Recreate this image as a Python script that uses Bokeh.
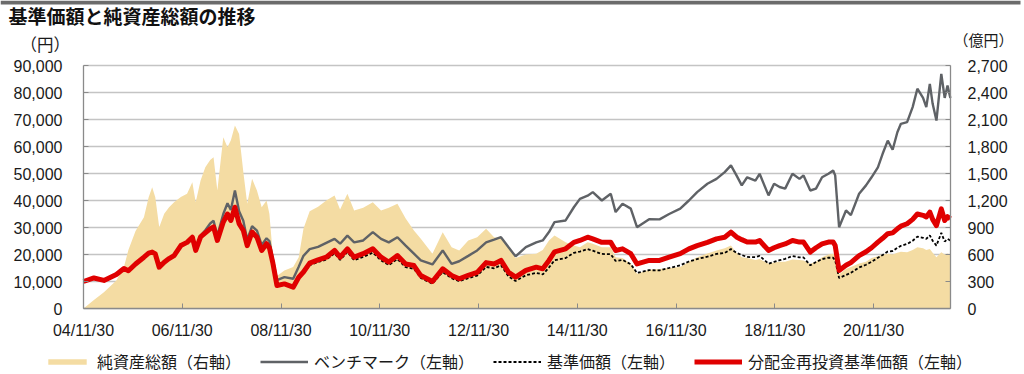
import pandas as pd
from bokeh.plotting import figure
from bokeh.models import (ColumnDataSource, LinearAxis, DatetimeAxis, Range1d, FixedTicker,
                          NumeralTickFormatter, DatetimeTickFormatter, Label,
                          Legend, LegendItem, BoxAnnotation)
from bokeh.embed import file_html
from bokeh.resources import INLINE

# ---------------- data ----------------
dates = [
    "2004-11-30", "2005-02-15", "2005-04-30", "2005-07-31", "2005-09-25", "2005-10-28", "2005-12-20",
    "2006-02-20", "2006-03-27", "2006-04-22", "2006-05-15", "2006-06-13", "2006-07-20", "2006-08-25",
    "2006-10-01", "2006-11-20",
    "2007-01-05", "2007-02-13", "2007-03-10", "2007-04-15", "2007-05-20", "2007-06-25", "2007-07-20",
    "2007-08-17", "2007-09-30", "2007-10-31", "2007-11-25", "2007-12-25",
    "2008-01-25", "2008-02-25", "2008-03-25", "2008-04-30", "2008-06-05", "2008-07-10", "2008-08-15",
    "2008-09-05", "2008-09-30", "2008-10-31", "2008-12-25",
    "2009-02-28", "2009-04-10", "2009-05-15", "2009-06-30", "2009-08-31", "2009-10-31", "2009-12-31",
    "2010-02-10", "2010-04-05", "2010-05-25", "2010-07-31", "2010-10-10", "2010-12-10",
    "2011-02-05", "2011-04-10", "2011-06-10", "2011-08-10", "2011-09-30", "2011-12-25",
    "2012-03-10", "2012-05-15", "2012-07-10", "2012-09-15", "2012-11-20",
    "2013-01-25", "2013-03-25", "2013-05-15", "2013-07-10", "2013-08-31", "2013-11-15",
    "2014-01-31", "2014-03-20", "2014-05-05", "2014-06-15", "2014-09-05", "2014-11-05", "2014-12-20",
    "2015-02-15", "2015-03-25", "2015-05-31", "2015-08-05", "2015-09-10", "2015-10-31", "2015-12-31",
    "2016-02-15", "2016-05-15", "2016-07-31", "2016-10-10", "2016-12-31",
    "2017-03-05", "2017-05-05", "2017-07-20", "2017-09-25", "2017-11-25",
    "2018-01-10", "2018-02-20", "2018-03-31", "2018-05-10", "2018-07-10", "2018-08-10", "2018-10-15",
    "2018-11-25",
    "2019-01-05", "2019-02-15", "2019-04-10", "2019-06-01", "2019-07-01", "2019-08-20", "2019-10-01",
    "2019-11-15",
    "2020-01-01", "2020-02-05", "2020-02-20", "2020-03-20", "2020-05-10", "2020-06-15", "2020-08-15",
    "2020-10-05", "2020-11-15",
    "2021-01-01", "2021-02-05", "2021-03-15", "2021-04-20", "2021-05-25", "2021-06-20", "2021-08-05",
    "2021-09-15", "2021-10-20", "2021-12-01", "2021-12-25",
    "2022-01-20", "2022-02-10", "2022-03-10", "2022-04-15", "2022-05-10", "2022-05-31", "2022-06-21",
]

# 分配金再投資基準価額 (円, left axis)
reinvested_nav = [
    10000, 11300, 10400, 12600, 14800, 14000, 16500,
    19000, 20500, 20900, 20200, 15300, 17150, 18500,
    19600, 23300,
    24500, 26400, 21500, 26500, 28000, 29500, 30200,
    25200, 32000, 35000, 32600, 37500,
    31400, 28900, 23300, 28300, 26400, 21500, 24000,
    22500, 17000, 8500, 9100,
    7900, 11600, 13500, 16800, 18000, 19000, 21500,
    19000, 22100, 19000, 20300, 22100, 19000,
    17200, 19600, 16500, 15900, 12200, 10000,
    14700, 12200, 11000, 12300, 13400,
    17000, 16500, 17800, 13400, 11600, 14100,
    15300, 14700, 17800, 21000, 22100, 24500, 25200,
    26400, 25800, 24500, 24500, 21500, 22100, 20300,
    16500, 17800, 17800, 19000, 20300,
    22100, 23300, 24500, 25800, 26400,
    28300, 26500, 25500, 24600, 24600, 25200, 21500,
    22500,
    23300, 23900, 25200, 24600, 24600, 20900, 22500,
    23900,
    24600, 24600, 23300, 14100, 16000, 17000, 19600,
    21000, 22500,
    24600, 26000, 27700, 28000, 29500, 30500, 31400,
    33000, 35000, 34500, 33900,
    35700, 33000, 30700, 36900, 32600, 34000, 33200,
]

# ベンチマーク (left axis)
benchmark = [
    10000, 11300, 10400, 12600, 14800, 14000, 16500,
    19000, 20500, 20900, 20200, 15300, 17150, 18500,
    19600, 23300,
    24600, 26600, 21700, 27000, 29000, 31500, 32500,
    27000, 35000, 39000, 36500, 43700,
    36000, 32500, 25500, 30500, 28800, 23500, 26000,
    25000, 18500, 10500, 11600,
    11000, 15500, 19500, 22000, 22800, 24300, 25800,
    24000, 27000, 24500, 25200, 28300, 25800,
    24500, 26400, 23300, 20300, 17800, 16300,
    21500, 16500, 17500, 19500, 21500,
    24500, 25500, 26400, 22700, 19300, 22700,
    24500, 25200, 28300, 32000, 32600, 37500, 40600,
    41800, 43100, 40000, 42500, 35700, 38800, 37000,
    30100, 33100, 33000, 35000, 37000,
    40000, 43100, 46200, 48000, 50500,
    53000, 49300, 45600, 48600, 47400, 49900, 41900,
    46200,
    45000, 44400, 49900, 48000, 49300, 43700, 44400,
    48600,
    49900, 51100, 49300, 30100, 36300, 34600, 42500,
    45600, 48600,
    52300, 57300, 62200, 58800, 65300, 68400, 69000,
    74600, 81400, 78000, 74600,
    83200, 75800, 69600, 86900, 78000, 82600, 78000,
]

# 基準価額 (left axis)
nav_price = [
    10000, 11300, 10400, 12600, 14800, 14000, 16500,
    19000, 20500, 20900, 20200, 15300, 17150, 18500,
    19600, 23300,
    24500, 26400, 21500, 26500, 27900, 29300, 30000,
    25000, 31700, 34600, 32200, 37000,
    30900, 28400, 22900, 27700, 25800, 21000, 23400,
    21900, 16600, 8300, 8800,
    7600, 11200, 13000, 16100, 17200, 18100, 20400,
    18000, 20900, 17900, 19100, 20700, 17800,
    16100, 18300, 15300, 14700, 11300, 9200,
    13500, 11200, 10100, 11200, 12200,
    15400, 14900, 16000, 11900, 10200, 12300,
    13200, 12600, 15200, 17900, 18700, 20600, 21100,
    22000, 21400, 20200, 20100, 17600, 18000, 16400,
    13200, 14200, 14100, 15000, 16000,
    17400, 18300, 19200, 20200, 20600,
    22000, 20600, 19800, 19100, 19000, 19500, 16600,
    17300,
    17900, 18400, 19400, 18900, 18900, 16000, 17200,
    18300,
    18800, 18800, 17800, 11300, 12400, 13200, 15200,
    16200, 17300,
    18800, 19800, 21100, 21300, 22500, 23200, 23900,
    25100, 26600, 26200, 25800,
    27100, 25100, 23300, 28000, 24800, 25800, 25200,
]

# 純資産総額 (億円, right axis)
net_assets = [
    0, 95, 181, 311, 460, 650, 860,
    1014, 1237, 1348, 1237, 903, 1052, 1126,
    1180, 1240,
    1274, 1403, 1181, 1422, 1570, 1650, 1681,
    1311, 1903, 1792, 1870, 2033,
    1940, 1520, 1163, 1441, 1311, 1126, 1200,
    1052, 600, 360, 422,
    460, 570, 885, 1080, 1130, 1200, 1255,
    1100, 1274, 1089, 1120, 1181, 1089,
    1120, 1163, 1000, 867, 774, 607,
    848, 681, 644, 756, 793,
    885, 793, 780, 681, 560, 600,
    607, 650, 756, 811, 737, 700, 681,
    737, 720, 681, 681, 570, 560, 496,
    385, 430, 440, 450, 460,
    520, 570, 610, 644, 670,
    700, 620, 570, 560, 540, 550, 496,
    510,
    520, 520, 545, 540, 533, 496, 520,
    570,
    600, 607, 590, 380, 440, 460, 500,
    520, 560,
    580, 600, 607, 600, 620, 630, 626,
    650, 681, 670, 650,
    660, 620, 570, 626, 600, 610, 600,
]

x_tick_dates = ["2004-11-30", "2006-11-30", "2008-11-30", "2010-11-30", "2012-11-30",
                "2014-11-30", "2016-11-30", "2018-11-30", "2020-11-30"]
x_tick_labels = ["04/11/30", "06/11/30", "08/11/30", "10/11/30", "12/11/30",
                 "14/11/30", "16/11/30", "18/11/30", "20/11/30"]
left_ticks = [0, 10000, 20000, 30000, 40000, 50000, 60000, 70000, 80000, 90000]
right_ticks = [0, 300, 600, 900, 1200, 1500, 1800, 2100, 2400, 2700]
axis_start, axis_end = "2004-11-30", "2022-06-22"

title_text = "基準価額と純資産総額の推移"
left_unit = "（円）"
right_unit = "（億円）"
legend_labels = ["純資産総額（右軸）", "ベンチマーク（左軸）", "基準価額（左軸）", "分配金再投資基準価額（左軸）"]

assert len(dates) == len(reinvested_nav) == len(benchmark) == len(nav_price) == len(net_assets)


def ms(s):
    return int(pd.Timestamp(s).value // 10**6)


src = ColumnDataSource(dict(
    date=[pd.Timestamp(d) for d in dates],
    bench=benchmark, nav=nav_price, reinv=reinvested_nav, assets=net_assets,
))

# ---------------- layout geometry (pixels of the 1024x374 canvas) ----------------
W, H = 1024, 374
PL, PR, PT, PB = 83, 950, 65, 308          # plot box: left, right, top (90,000 line), bottom (0)
A, B = ms(axis_start), ms(axis_end)
sx = (B - A) / (PR - PL)
L_MAX, R_MAX = left_ticks[-1], right_ticks[-1]
sy_l = L_MAX / (PB - PT)
sy_r = R_MAX / (PB - PT)

# the frame covers the whole canvas; axes are pinned at fixed data locations
p = figure(width=W, height=H, x_axis_type=None, y_axis_type=None,
           x_range=Range1d(A - PL * sx, B + (W - PR) * sx),
           y_range=Range1d(-(H - PB) * sy_l, L_MAX + PT * sy_l),
           output_backend="svg", toolbar_location=None,
           min_border_left=0, min_border_right=0, min_border_top=0, min_border_bottom=0)
p.extra_y_ranges = {"assets": Range1d(-(H - PB) * sy_r, R_MAX + PT * sy_r)}
p.outline_line_color = None
p.background_fill_color = "white"
p.border_fill_color = "white"
p.xgrid.visible = False
p.ygrid.visible = False

# horizontal grid lines at the left-axis ticks, limited to the plot box
p.segment(x0=[A] * len(left_ticks), x1=[B] * len(left_ticks), y0=left_ticks, y1=left_ticks,
          line_color="#c4c4c4", line_width=1.3)

area_r = p.varea(x="date", y1=0, y2="assets", source=src, y_range_name="assets",
                 fill_color="#f4dca3", fill_alpha=1.0)
bench_r = p.line(x="date", y="bench", source=src, line_color="#5f6266", line_width=2.4)
nav_r = p.line(x="date", y="nav", source=src, line_color="#000000", line_width=1.8,
               line_dash="3 2")
reinv_r = p.line(x="date", y="reinv", source=src, line_color="#e00000", line_width=5,
                 line_join="round")

# axes
ax_x = DatetimeAxis(ticker=FixedTicker(ticks=[ms(d) for d in x_tick_dates]),
                    formatter=DatetimeTickFormatter(years="%y/%m/%d", months="%y/%m/%d",
                                                    days="%y/%m/%d"),
                    fixed_location=0, bounds=(A, B))
ax_x.major_label_overrides = {ms(d): lab for d, lab in zip(x_tick_dates, x_tick_labels)}
ax_l = LinearAxis(ticker=FixedTicker(ticks=left_ticks), formatter=NumeralTickFormatter(format="0,0"),
                  fixed_location=A, bounds=(0, L_MAX))
ax_r = LinearAxis(y_range_name="assets", ticker=FixedTicker(ticks=right_ticks),
                  formatter=NumeralTickFormatter(format="0,0"), fixed_location=B,
                  bounds=(0, R_MAX))
p.add_layout(ax_x, "below")
p.add_layout(ax_l, "left")
p.add_layout(ax_r, "right")

for ax in [ax_x, ax_l, ax_r]:
    ax.axis_line_color = "#8a8a8a"
    ax.axis_line_width = 1.3
    ax.major_tick_line_color = "#8a8a8a"
    ax.major_tick_in = 5
    ax.major_tick_out = 0
    ax.minor_tick_line_color = None
    ax.major_label_text_font = "Liberation Sans"
    ax.major_label_text_font_size = "16px"
    ax.major_label_text_color = "#1a1a1a"
ax_x.major_label_standoff = 13
ax_l.major_label_standoff = 21
ax_r.major_label_standoff = 17

# top bar, title and unit captions (screen units, origin at bottom-left of canvas)
p.add_layout(BoxAnnotation(left=0, right=1020, top=H, bottom=H - 4,
                           left_units="screen", right_units="screen",
                           top_units="screen", bottom_units="screen",
                           fill_color="#6b6b6b", fill_alpha=1.0, line_color=None))
p.add_layout(Label(x=8, y=H - 15, x_units="screen", y_units="screen", text=title_text,
                   text_font="Noto Sans CJK JP", text_font_style="bold",
                   text_font_size="19px", text_baseline="alphabetic", text_color="#111111"))
p.add_layout(Label(x=20, y=H - 43, x_units="screen", y_units="screen", text=left_unit,
                   text_font="Noto Sans CJK JP", text_font_size="16.5px",
                   text_baseline="alphabetic", text_color="#1a1a1a"))
p.add_layout(Label(x=953, y=H - 39, x_units="screen", y_units="screen", text=right_unit,
                   text_font="Noto Sans CJK JP", text_font_size="15px",
                   text_baseline="alphabetic", text_color="#1a1a1a"))

legend = Legend(items=[
    LegendItem(label=legend_labels[0], renderers=[area_r]),
    LegendItem(label=legend_labels[1], renderers=[bench_r]),
    LegendItem(label=legend_labels[2], renderers=[nav_r]),
    LegendItem(label=legend_labels[3], renderers=[reinv_r]),
], location=(43, 1), orientation="horizontal",
    glyph_width=48, glyph_height=7, label_height=20, label_standoff=6, spacing=19,
    padding=0, margin=0, border_line_color=None, background_fill_alpha=0,
    label_text_font="Noto Sans CJK JP", label_text_font_size="16px",
    label_text_color="#1a1a1a")
p.add_layout(legend, "center")

open("out.html", "w").write(file_html(p, INLINE))
